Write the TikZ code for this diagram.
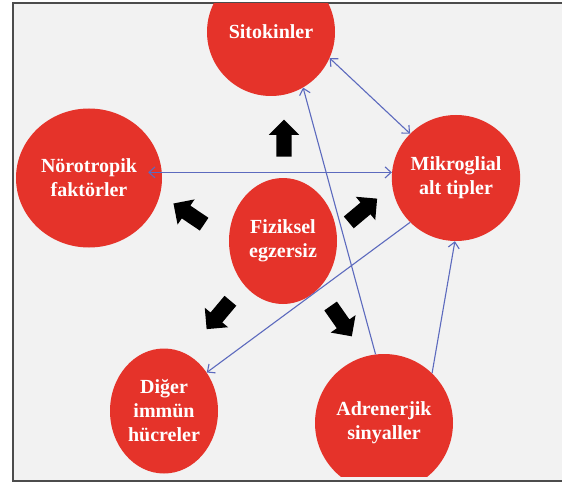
\documentclass[tikz,border=0pt]{standalone}
\usepackage{fontspec}
\setmainfont{Liberation Serif}
\usepackage{tikz}
\usetikzlibrary{shapes.geometric,shapes.arrows,arrows.meta}
\definecolor{boxred}{RGB}{229,51,42}
\definecolor{linkblue}{RGB}{92,106,190}
\definecolor{panel}{RGB}{242,242,242}

\begin{document}
\begin{tikzpicture}[x=1pt,y=-1pt,
  topic/.style={ellipse,fill=boxred,text=white,inner sep=0pt,align=center,font=\fontsize{20}{24}\selectfont\bfseries},
  push/.style={single arrow,fill=black,inner xsep=0pt,inner ysep=7.5pt,minimum height=37pt,minimum width=30pt,single arrow head extend=7.5pt},
  link/.style={color=linkblue,line width=1.1pt,>={Straight Barb[length=6pt,width=11pt]}}]
\useasboundingbox (0,0) rectangle (562,484);
\fill[panel] (13,3) rectangle (562,481);
\draw[line width=1.2pt,gray!60!black] (562,3) -- (13,3) -- (13,481) -- (562,481);
\begin{scope}
\clip (13,4) rectangle (562,476);
\node[topic,minimum width=128pt,minimum height=128pt] (sito) at (271,32) {Sitokinler};
\node[topic,minimum width=146pt,minimum height=139pt] (noro) at (89,178) {Nörotropik\\faktörler};
\node[topic,minimum width=128pt,minimum height=126pt] (mikro) at (456,178) {Mikroglial\\alt tipler};
\node[topic,minimum width=108pt,minimum height=126pt] (fiz) at (283,241) {Fiziksel\\egzersiz};
\node[topic,minimum width=108pt,minimum height=125pt] (diger) at (164,411) {Diğer\\immün\\hücreler};
\node[topic,minimum width=138pt,minimum height=138pt] (adren) at (384,423) {Adrenerjik\\sinyaller};
\end{scope}
\node[push,rotate=90] (pushUp) at (284,142) {};
\node[push,rotate=146] (pushNoro) at (192,216) {};
\node[push,rotate=40] (pushMikro) at (360,213) {};
\node[push,rotate=230] (pushDiger) at (221,312) {};
\node[push,rotate=305] (pushAdren) at (339,318) {};
\path[link]
(sito.-24) edge [<->] (mikro.136)
(mikro.175 -| noro.east) edge [<->,shorten <=-14pt] (mikro.175)
(adren.97) edge [->] (sito.-60)
(adren.46) edge [->] (mikro.-91)
(mikro.224) edge [->] (diger.42);
\end{tikzpicture}
\end{document}
